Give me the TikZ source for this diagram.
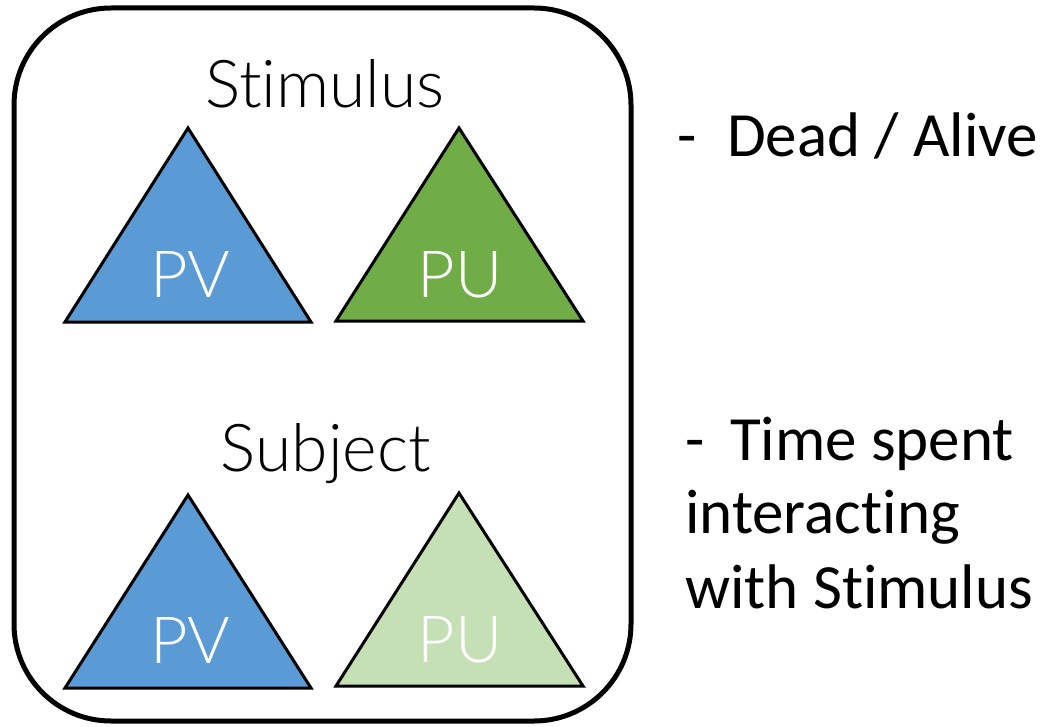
\documentclass[tikz,border=0pt]{standalone}
\usepackage{fontspec}
\setmainfont{Carlito}[Ligatures=NoCommon]
\newfontfamily\avfont{Lato}[UprightFont={* Light},Ligatures=NoCommon]
\definecolor{pvblue}{HTML}{5B9BD5}
\definecolor{pugreen}{HTML}{70AD47}
\definecolor{pulight}{HTML}{C5E0B4}
\begin{document}
\begin{tikzpicture}[x=1pt,y=-1pt,
  tri/.style={draw=black,line width=3pt,line join=miter},
  head/.style={font=\avfont\fontsize{66}{78}\selectfont,anchor=base,inner sep=0pt},
  lab/.style={font=\avfont\fontsize{65}{78}\selectfont,text=white,anchor=base,inner sep=0pt},
  side/.style={font=\fontsize{63}{74}\selectfont,anchor=base west,inner sep=0pt}]
\useasboundingbox (0,0) rectangle (1043,727);
\fill[white] (0,0) rectangle (1043,727);
\draw[line width=5pt,rounded corners=97pt] (14,8) rectangle (631,721);
% triangles
\draw[tri,fill=pvblue] (188,128) -- (311,322) -- (65,322) -- cycle;
\draw[tri,fill=pugreen] (459,128) -- (583,321) -- (336,321) -- cycle;
\draw[tri,fill=pvblue] (188,495) -- (311,688) -- (65,688) -- cycle;
\draw[tri,fill=pulight] (459,493) -- (583,686) -- (336,686) -- cycle;
% labels
\node[head] (stim) at (325,108) {Stimulus};
\node[head] (subj) at (326,471) {Subject};
\node[lab] (pv1) at (190,297) {PV};
\node[lab] (pu1) at (460,297) {PU};
\node[lab] (pv2) at (190,663) {PV};
\node[lab] (pu2) at (460,662) {PU};
% side text
\node[side] (d1) at (677,157) {-};
\node[side] (da) at (727,157) {Dead / Alive};
\node[side] (d2) at (685,460) {-};
\node[side] (ts) at (730,460) {Time spent};
\node[side] (it) at (685,533) {interacting};
\node[side] (ws) at (685,608) {with Stimulus};
\end{tikzpicture}
\end{document}
